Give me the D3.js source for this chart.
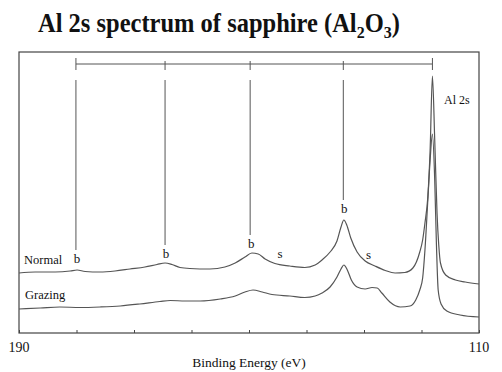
<!DOCTYPE html>
<html>
<head>
<meta charset="utf-8">
<script src="https://cdn.jsdelivr.net/npm/d3@7"></script>
<style>
  body { margin: 0; background: #fff; }
  svg { display: block; }
</style>
</head>
<body>
<svg width="502" height="372"></svg>
<script>
// binding energy (eV) and intensity (a.u.)
const normalE = [190.0, 187.2, 183.7, 181.1, 179.9, 178.5, 175.9, 173.3, 170.7, 168.1, 166.0, 164.6, 163.4, 162.0,
  160.3, 156.8, 154.2, 152.4, 150.7, 149.5, 148.4, 147.2, 145.5, 142.9, 140.3, 138.5, 137.3, 135.9, 134.7, 134.0,
  133.5, 133.0, 132.3, 131.2, 129.8, 128.1, 126.3, 124.6, 122.9, 121.5, 120.3, 119.8, 119.4, 118.9, 118.5, 118.1,
  117.7, 117.3, 117.0, 116.7, 115.8, 114.1, 112.4, 110.0];
const normalI = [60, 61, 61, 62, 63, 61.5, 61, 62, 64, 66, 68.5, 70, 68.5, 65.5,
  64.5, 64, 66, 70, 76, 80, 79, 74, 69.5, 67, 65.5, 68, 73, 81, 92, 106,
  113, 108, 95, 81, 72, 67, 62.5, 60, 60.5, 65, 81, 93, 110, 136, 183, 257,
  193, 120, 88, 70, 58, 53, 51, 49];

const grazingE = [190.0, 186.3, 182.9, 179.4, 175.9, 172.4, 169.0, 165.5, 163.7, 161.1, 158.5, 155.0, 152.4, 150.7,
  149.3, 147.7, 146.0, 142.9, 140.3, 138.5, 137.3, 135.9, 134.7, 134.0, 133.5, 132.9, 132.2, 131.2, 129.8, 128.6,
  127.7, 126.9, 125.5, 123.7, 122.0, 121.0, 120.3, 119.8, 119.4, 118.9, 118.5, 118.1, 117.7, 117.4, 117.1, 116.6,
  115.6, 113.3, 110.0];
const grazingI = [24, 25, 26, 25.5, 26, 27, 29, 31.5, 32.5, 32, 32, 34, 37, 41,
  43, 41, 38.5, 37, 35.5, 37, 40, 46, 56, 64, 68, 63, 53, 46, 44, 45.5,
  45, 40, 31, 26, 27, 33, 43, 55, 83, 133, 173, 199, 153, 88, 43, 29,
  22, 18, 16];

// bulk plasmon loss markers (b) and Al 2s line
const markE = [180.1, 164.6, 149.8, 133.6, 118.1];
const markLabels = ["b", "b", "b", "b"];
const markEndI = [83, 88, 98, 133];
const markTopI = 253;
const bracketI = 269;
// surface plasmon markers (s)
const sE = [144.6, 129.2];
const sI = [79, 78];

const xTicks = d3.range(190, 109, -10);

const FONT = '"Liberation Serif"';
const svg = d3.select("svg");
const margin = { left: 19, right: 23, top: 52, bottom: 39 };
const W = 502, H = 372;

const x = d3.scaleLinear().domain([190, 110]).range([margin.left, W - margin.right]);
const y = d3.scaleLinear().domain([0, 281]).range([H - margin.bottom, margin.top]);

const label = (xp, yp, size, txt, anchor = "start") =>
  svg.append("text").attr("x", xp).attr("y", yp).attr("text-anchor", anchor)
    .attr("font-size", size).attr("fill", "#111").style("font-family", FONT).text(txt);

// title (slightly stretched vertically, like the scanned slide)
const title = svg.append("text")
  .attr("transform", "translate(38,32) scale(1,1.1)")
  .attr("font-size", 24.5).attr("font-weight", "bold").attr("fill", "#111")
  .style("font-family", FONT);
title.append("tspan").text("Al 2s spectrum of sapphire (Al");
title.append("tspan").attr("font-size", 16).attr("dy", 5).text("2");
title.append("tspan").attr("dy", -5).text("O");
title.append("tspan").attr("font-size", 16).attr("dy", 5).text("3");
title.append("tspan").attr("dy", -5).text(")");

// frame
svg.append("rect")
  .attr("x", x(190)).attr("y", y(281))
  .attr("width", x(110) - x(190)).attr("height", y(0) - y(281))
  .attr("fill", "none").attr("stroke", "#444").attr("stroke-width", 1.2);

// bottom axis ticks (inside)
svg.append("g")
  .attr("transform", `translate(0,${y(0)})`)
  .call(d3.axisTop(x).tickValues(xTicks).tickSize(3).tickFormat(""))
  .call(g => g.select(".domain").remove())
  .selectAll("line").attr("stroke", "#444");

label(x(190), 352, 14, "190", "middle");
label(x(110), 352, 14, "110", "middle");
label((x(190) + x(110)) / 2, 367, 13.5, "Binding Energy (eV)", "middle");

// spectra
const line = d3.line().curve(d3.curveMonotoneX);
const spectra = [
  { name: "Normal", e: normalE, i: normalI },
  { name: "Grazing", e: grazingE, i: grazingI }
];
svg.append("g").selectAll("path")
  .data(spectra)
  .join("path")
  .attr("d", d => line(d.e.map((e, k) => [x(e), y(d.i[k])])))
  .attr("fill", "none")
  .attr("stroke", "#555")
  .attr("stroke-width", 1.2);

label(24, y(normalI[0]) - 9, 12.5, "Normal");
label(25, y(grazingI[0]) - 10, 12.5, "Grazing");

// plasmon bracket
const ann = svg.append("g").attr("stroke", "#555").attr("stroke-width", 1);
ann.append("line")
  .attr("x1", x(markE[0])).attr("x2", x(markE[markE.length - 1]))
  .attr("y1", y(bracketI)).attr("y2", y(bracketI));
ann.selectAll(".tk").data(markE).join("line").attr("class", "tk")
  .attr("x1", d => x(d)).attr("x2", d => x(d))
  .attr("y1", (d, k) => y(bracketI) - (k === 0 || k === markE.length - 1 ? 6 : 3))
  .attr("y2", y(bracketI) + 6);
ann.selectAll(".ld").data(markEndI).join("line").attr("class", "ld")
  .attr("x1", (d, k) => x(markE[k])).attr("x2", (d, k) => x(markE[k]))
  .attr("y1", y(markTopI)).attr("y2", d => y(d));

markEndI.forEach((d, k) => label(x(markE[k]) + 1, y(d) + 13, 13, markLabels[k], "middle"));
sE.forEach((d, k) => label(x(d), y(sI[k]) + 4, 13, "s", "middle"));

label(444, 104, 12, "Al 2s");
</script>
</body>
</html>
